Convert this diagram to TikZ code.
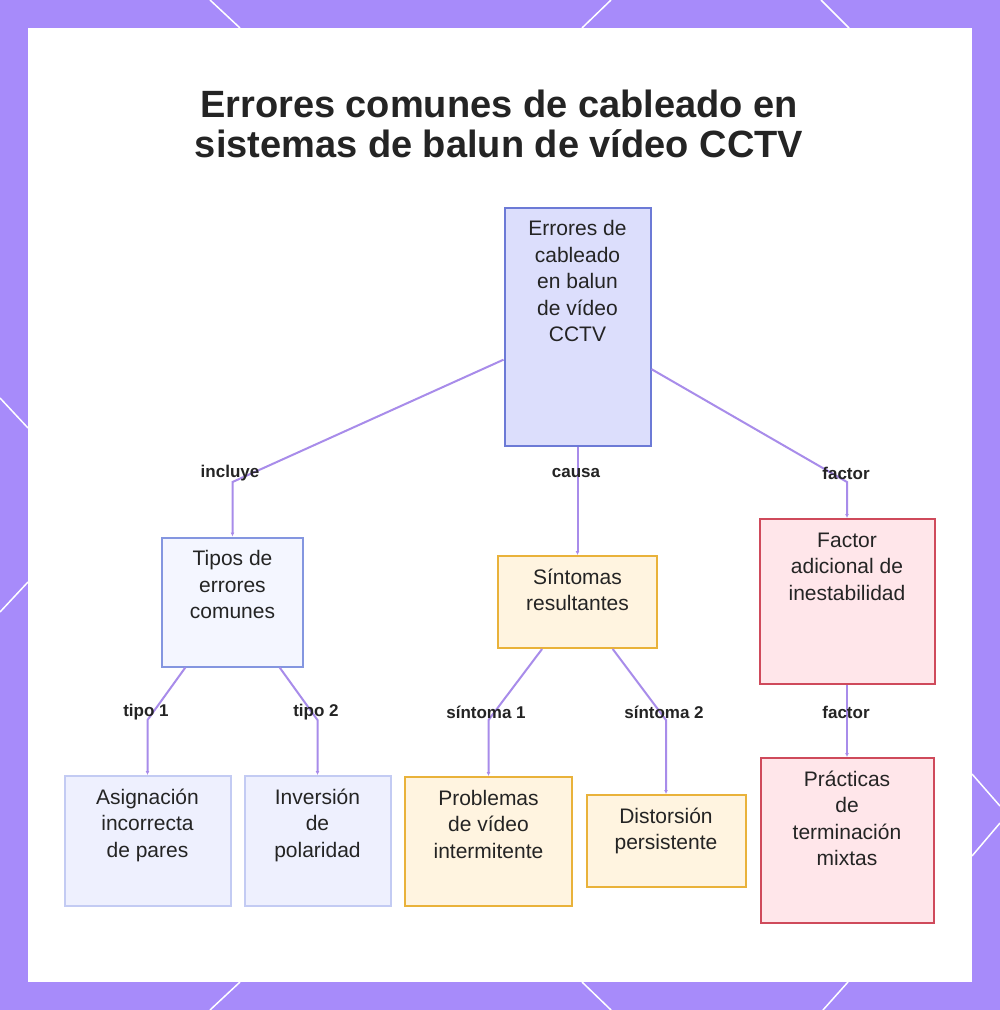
\documentclass[tikz,border=0pt]{standalone}
\usepackage{fontspec}
\setmainfont{Liberation Sans}
\usetikzlibrary{positioning, arrows.meta}

\definecolor{frame}{HTML}{A78BFA}
\definecolor{wire}{HTML}{A88CEA}
\definecolor{ink}{HTML}{242424}
\definecolor{rootfill}{HTML}{DCDEFC}
\definecolor{rootline}{HTML}{6C7AD6}
\definecolor{typefill}{HTML}{F4F6FF}
\definecolor{typeline}{HTML}{8496E0}
\definecolor{leaffill}{HTML}{EEF0FE}
\definecolor{leafline}{HTML}{C3CBF3}
\definecolor{symfill}{HTML}{FFF4E0}
\definecolor{symline}{HTML}{E9B23A}
\definecolor{facfill}{HTML}{FFE6EA}
\definecolor{facline}{HTML}{CF4A5B}

% text block of a box: width, height, lines (top aligned)
\newcommand{\boxtxt}[3]{\parbox[c][#2][t]{#1}{\centering\rule{0pt}{28pt}#3}}

\begin{document}
\begin{tikzpicture}[x=1pt,y=-1pt,on grid,
  box/.style={draw,line width=2pt,inner sep=0pt,text=ink,font=\fontsize{21}{26.5}\selectfont},
  rootbox/.style={box,fill=rootfill,draw=rootline},
  typebox/.style={box,fill=typefill,draw=typeline},
  leafbox/.style={box,fill=leaffill,draw=leafline},
  symbox/.style={box,fill=symfill,draw=symline},
  facbox/.style={box,fill=facfill,draw=facline},
  lbl/.style={text=ink,font=\bfseries\fontsize{17}{20}\selectfont},
  link/.style={draw=wire,line width=2pt,-{Latex[length=4pt,width=4pt]}}]
   \useasboundingbox (0,0) rectangle (1000,1010);
   % frame
   \fill[frame] (0,0) rectangle (1000,1010);
   \draw[white,line width=1.5pt] (210,0) -- (240,28) (611,0) -- (582,28) (821,0) -- (849,28)
        (240,982) -- (210,1010) (582,982) -- (611,1010) (848,982) -- (823,1010)
        (0,398) -- (28,428) (28,582) -- (0,612)
        (972,774) -- (1000,806) (1000,823) -- (972,856);
   \fill[white] (28,28) rectangle (972,982);

   \node[text=ink,font=\bfseries\fontsize{38}{39.5}\selectfont,align=center,anchor=base] (title) at (499,157)
        {Errores comunes de cableado en\\sistemas de balun de vídeo CCTV};

   \node[rootbox] (root) at (577.5,326.5) {\boxtxt{146pt}{238pt}{Errores de\\cableado\\en balun\\de vídeo\\CCTV}};
   \node[typebox] (tipos) [below left=275.5pt and 345pt of root] {\boxtxt{141pt}{129pt}{Tipos de\\errores\\comunes}};
   \node[symbox] (sint) [below=275.5pt of root] {\boxtxt{159pt}{92pt}{Síntomas\\resultantes}};
   \node[facbox] (factor) [below right=275pt and 269.5pt of root] {\boxtxt{175pt}{165pt}{Factor\\adicional de\\inestabilidad}};
   \node[leafbox] (asig) [below left=239pt and 85pt of tipos] {\boxtxt{166pt}{130pt}{Asignación\\incorrecta\\de pares}};
   \node[leafbox] (inver) [below right=239pt and 85pt of tipos] {\boxtxt{146pt}{130pt}{Inversión\\de\\polaridad}};
   \node[symbox] (prob) [below left=239.5pt and 89pt of sint] {\boxtxt{167pt}{129pt}{Problemas\\de vídeo\\intermitente}};
   \node[symbox] (dist) [below right=239pt and 88.5pt of sint] {\boxtxt{159pt}{92pt}{Distorsión\\persistente}};
   \node[facbox] (prac) [below=239pt of factor] {\boxtxt{173pt}{165pt}{Prácticas\\de\\terminación\\mixtas}};

   % bend points
   \coordinate (b1) at (232.5,482);
   \coordinate (b2) at (577.5,482);
   \coordinate (b3) at (847,482);
   \coordinate (b4) at (147.5,720);
   \coordinate (b5) at (317.5,720);
   \coordinate (b6) at (488.5,720);
   \coordinate (b7) at (666,720);
   \coordinate (b8) at (847,720);

   \draw[link] (root) -- (b1) -- (tipos);
   \draw[link] (root) -- (sint);
   \draw[link] (root) -- (b3) -- (factor);
   \draw[link] (tipos) -- (b4) -- (asig);
   \draw[link] (tipos) -- (b5) -- (inver);
   \draw[link] (sint) -- (b6) -- (prob);
   \draw[link] (sint) -- (b7) -- (dist);
   \draw[link] (factor) -- (prac);

   \node[lbl] (incluye) at (230,473) {incluye};
   \node[lbl] (causa) at (576,473) {causa};
   \node[lbl] (factor1) at (846,473) {factor};
   \node[lbl] (tipo1) at (146,712) {tipo 1};
   \node[lbl] (tipo2) at (316,712) {tipo 2};
   \node[lbl] (sint1) at (486,712) {síntoma 1};
   \node[lbl] (sint2) at (664,712) {síntoma 2};
   \node[lbl] (factor2) at (846,712) {factor};
\end{tikzpicture}
\end{document}
